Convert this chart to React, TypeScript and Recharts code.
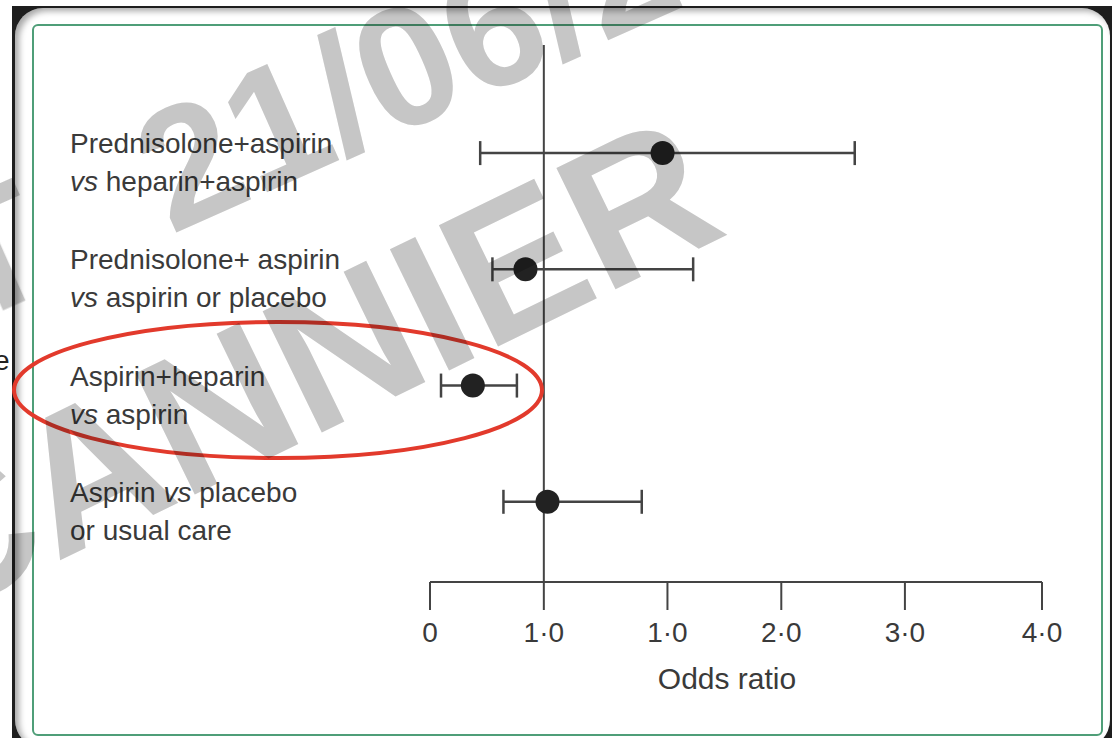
import React from 'react';
import { ScatterChart, Scatter, XAxis, YAxis, ErrorBar, ReferenceLine } from 'recharts';

// comparisons, top to bottom (two lines each)
const COMPARISONS = [
  ['Prednisolone+aspirin', 'vs heparin+aspirin'],
  ['Prednisolone+ aspirin', 'vs aspirin or placebo'],
  ['Aspirin+heparin', 'vs aspirin'],
  ['Aspirin vs placebo', 'or usual care'],
];

// values are in the axis units of the printed scale (one unit per tick gap)
const ODDS_RATIO = [1.9, 0.78, 0.35, 0.96];
const CI_LOW = [0.41, 0.51, 0.09, 0.6];
const CI_HIGH = [3.47, 2.15, 0.71, 1.73];

const TICK_VALUES = [0, 0.93, 1.94, 2.87, 3.88, 5];
const TICK_LABELS = ['0', '1·0', '1·0', '2·0', '3·0', '4·0'];
const NO_EFFECT = 0.93;

const FONT = "'Liberation Sans', Arial, sans-serif";
const TEXT = '#3a3a3a';
const INK = '#444';

const data = COMPARISONS.map((_, i) => ({
  row: i + 1,
  or: ODDS_RATIO[i],
  ci: [ODDS_RATIO[i] - CI_LOW[i], CI_HIGH[i] - ODDS_RATIO[i]],
}));

function withItalicVs(line: string) {
  const parts = line.split(/(\bvs\b)/);
  return parts.map((p, i) =>
    p === 'vs' ? (
      <tspan key={i} fontStyle="italic">
        vs
      </tspan>
    ) : (
      <tspan key={i}>{p}</tspan>
    )
  );
}

function RowLabel(props: any) {
  const { y, payload } = props;
  const lines = COMPARISONS[payload.value - 1];
  if (!lines) return null;
  return (
    <g>
      <text x={70} y={y} fill={TEXT} fontSize={28} fontFamily={FONT} textAnchor="start">
        {withItalicVs(lines[0])}
      </text>
      <text x={70} y={y + 38} fill={TEXT} fontSize={28} fontFamily={FONT} textAnchor="start">
        {withItalicVs(lines[1])}
      </text>
    </g>
  );
}

function Dot(props: any) {
  return <circle cx={props.cx} cy={props.cy} r={12} fill="#222" />;
}

export default function App() {
  return (
    <div style={{ position: 'absolute', left: 0, top: 0, width: 1112, height: 738, overflow: 'hidden', background: '#fff' }}>
      {/* slide frame */}
      <div style={{ position: 'absolute', left: 12, top: 6, width: 1110, height: 740, background: '#1e1e1e' }} />
      <div
        style={{
          position: 'absolute',
          left: 15,
          top: 8,
          width: 1095,
          height: 740,
          background: '#fff',
          borderRadius: 28,
          boxShadow: 'inset 4px 3px 6px rgba(0,0,0,0.35)',
        }}
      />
      <div
        style={{
          position: 'absolute',
          left: 32,
          top: 24,
          width: 1071,
          height: 712,
          boxSizing: 'border-box',
          border: '2px solid #4f9e78',
          borderRadius: 6,
        }}
      />
      <div style={{ position: 'absolute', left: 0, top: 0 }}>
        <ScatterChart width={1112} height={738} margin={{ top: 45, right: 70, bottom: 0, left: 0 }}>
          <XAxis
            type="number"
            dataKey="or"
            domain={[0, 5]}
            ticks={TICK_VALUES}
            interval={0}
            allowDataOverflow
            tickFormatter={(_v: number, i: number) => TICK_LABELS[i]}
            stroke={INK}
            strokeWidth={2}
            tickSize={28}
            tickMargin={12}
            tick={{ fill: TEXT, fontSize: 28, fontFamily: FONT }}
            height={156}
            label={{ value: 'Odds ratio', position: 'insideBottom', offset: 49, dx: -9, fill: TEXT, fontSize: 30, fontFamily: FONT }}
          />
          <YAxis
            type="number"
            dataKey="row"
            domain={[0.07, 4.69]}
            reversed
            ticks={[1, 2, 3, 4]}
            interval={0}
            width={430}
            axisLine={false}
            tickLine={false}
            tick={<RowLabel />}
          />
          <ReferenceLine x={NO_EFFECT} stroke={INK} strokeWidth={2} />
          <Scatter data={data} isAnimationActive={false} shape={<Dot />}>
            <ErrorBar dataKey="ci" direction="x" width={12} stroke={INK} strokeWidth={2.5} />
          </Scatter>
        </ScatterChart>
      </div>
      {/* annotation + watermark overlay */}
      <svg width={1112} height={738} style={{ position: 'absolute', left: 0, top: 0, pointerEvents: 'none' }}>
        <text x={-6} y={370} fontSize={28} fontFamily={FONT} fill="#222">
          e
        </text>
        <ellipse cx={278} cy={390} rx={264} ry={68} fill="none" stroke="#e23a2c" strokeWidth={4} />
        <g style={{ mixBlendMode: 'multiply' }} fill="#c6c6c6" fontFamily="'Liberation Sans', Arial, sans-serif" fontWeight={700}>
          <text x={-33} y={327} fontSize={170} transform="rotate(-24 -33 327)">
            T
          </text>
          <text x={171} y={235} fontSize={170} transform="rotate(-24 171 235)">
            21/06/2023
          </text>
          <text x={731} y={233} fontSize={196} textAnchor="end" transform="rotate(-26 731 233)">
            SCANNIER
          </text>
        </g>
      </svg>
    </div>
  );
}
